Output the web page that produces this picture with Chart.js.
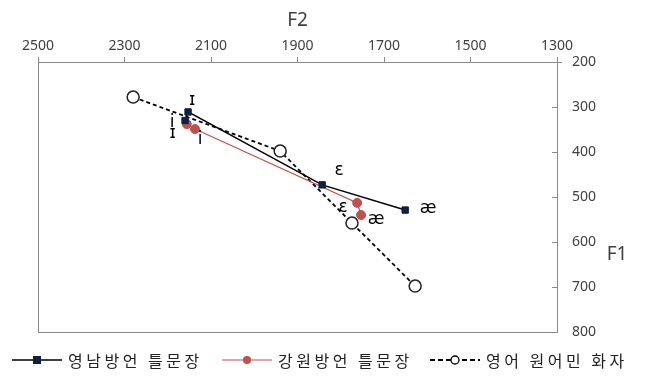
<!DOCTYPE html>
<html>
<head>
<meta charset="utf-8">
<script src="https://cdn.jsdelivr.net/npm/chart.js@4"></script>
<style>
  html, body { margin: 0; padding: 0; background: #fff; }
  #wrap { width: 645px; height: 376px; }
</style>
</head>
<body>
<div id="wrap"><canvas id="vowelChart" width="645" height="376"></canvas></div>
<script>
// 모음 포먼트 (F2, F1)
const seriesNames = ['영남방언 틀문장', '강원방언 틀문장', '영어 원어민 화자'];

const yeongnamF2 = [2160, 2153, 1843, 1651];
const yeongnamF1 = [330, 311, 473, 529];
const yeongnamLabels = ['i', 'ɪ', 'ɛ', 'æ'];

const gangwonF2 = [2156, 2137, 1762, 1753];
const gangwonF1 = [338, 349, 513, 540];
const gangwonLabels = ['ɪ', 'i', 'ɛ', 'æ'];

const englishF2 = [2280, 1940, 1774, 1628];
const englishF1 = [278, 398, 558, 698];

const f2Ticks = [2500, 2300, 2100, 1900, 1700, 1500, 1300];
const f1Ticks = [200, 300, 400, 500, 600, 700, 800];

// label offsets (px) per point
const yeongnamOffsets = [[-13, 2], [4, -11], [17, -14], [23, -1]];
const gangwonOffsets = [[-14, 9], [5, 11], [-14, 5], [15, 5]];

const RED = '#C0504D';
const NAVY = '#10203F';

function toPoints(xs, ys) {
    return xs.map((x, i) => ({ x: x, y: ys[i] }));
}

// 범례 아이콘 (선 + 마커)
function drawLegendIcon(g, kind, x, y) {
    g.save();
    g.beginPath();
    if (kind === 0) { g.strokeStyle = '#000'; g.lineWidth = 1.5; }
    if (kind === 1) { g.strokeStyle = RED; g.lineWidth = 1.2; }
    if (kind === 2) { g.strokeStyle = '#000'; g.lineWidth = 2; g.setLineDash([5, 3]); }
    g.moveTo(x, y); g.lineTo(x + 50, y); g.stroke();
    g.setLineDash([]);
    if (kind === 0) { g.fillStyle = NAVY; g.fillRect(x + 21, y - 4, 8, 8); }
    if (kind === 1) { g.fillStyle = RED; g.beginPath(); g.arc(x + 25, y, 4, 0, Math.PI * 2); g.fill(); }
    if (kind === 2) { g.fillStyle = '#fff'; g.strokeStyle = '#000'; g.lineWidth = 1.3; g.beginPath(); g.arc(x + 25, y, 4, 0, Math.PI * 2); g.fill(); g.stroke(); }
    g.restore();
}

const legendX = [12, 222, 430];

const framePlugin = {
    id: 'frame',
    beforeDatasetsDraw(chart) {
        const { ctx, chartArea: a, scales } = chart;
        ctx.save();
        ctx.strokeStyle = '#8a8a8a';
        ctx.lineWidth = 1;
        ctx.strokeRect(a.left + 0.5, a.top + 0.5, a.right - a.left, a.bottom - a.top);
        // 오른쪽 축 눈금 (안쪽)
        ctx.beginPath();
        scales.y.ticks.forEach(t => {
            const py = Math.round(scales.y.getPixelForValue(t.value)) + 0.5;
            ctx.moveTo(a.right - 5, py);
            ctx.lineTo(a.right + (t.value === 200 ? 5 : 0), py);
        });
        ctx.stroke();
        // F1 title
        ctx.fillStyle = '#404040';
        ctx.font = '19px "Noto Sans"';
        ctx.textAlign = 'center';
        ctx.textBaseline = 'middle';
        ctx.fillText('F1', a.right + 60, a.top + (a.bottom - a.top) * 0.715);
        ctx.restore();
    },
    afterDatasetsDraw(chart) {
        const { ctx } = chart;
        ctx.save();
        ctx.fillStyle = '#000';
        ctx.font = '17px "DejaVu Sans"';
        ctx.textAlign = 'center';
        ctx.textBaseline = 'middle';
        chart.data.datasets.forEach((ds, di) => {
            if (!ds.pointLabels) return;
            const meta = chart.getDatasetMeta(di);
            meta.data.forEach((pt, i) => {
                const off = ds.labelOffsets[i];
                ctx.fillText(ds.pointLabels[i], pt.x + off[0], pt.y + off[1]);
            });
        });
        ctx.restore();
    },
    afterDraw(chart) {
        // 범례
        const { ctx } = chart;
        const ly = chart.chartArea.bottom + 28;
        ctx.save();
        ctx.font = '16px "Noto Sans CJK KR"';
        ctx.letterSpacing = '3.5px';
        ctx.fillStyle = '#222';
        ctx.textAlign = 'left';
        ctx.textBaseline = 'middle';
        seriesNames.forEach((name, i) => {
            drawLegendIcon(ctx, i, legendX[i], ly);
            ctx.fillText(name, legendX[i] + 56, ly + 1);
        });
        ctx.restore();
    }
};

const ctx = document.getElementById('vowelChart').getContext('2d');
const vowelChart = new Chart(ctx, {
    type: 'scatter',
    data: {
        datasets: [{
            label: seriesNames[0],
            data: toPoints(yeongnamF2, yeongnamF1),
            pointLabels: yeongnamLabels,
            labelOffsets: yeongnamOffsets,
            showLine: true,
            borderColor: '#000',
            borderWidth: 1.5,
            pointStyle: 'rect',
            pointRadius: 4.5,
            pointBackgroundColor: NAVY,
            pointBorderColor: NAVY,
            pointBorderWidth: 1
        }, {
            label: seriesNames[1],
            data: toPoints(gangwonF2, gangwonF1),
            pointLabels: gangwonLabels,
            labelOffsets: gangwonOffsets,
            showLine: true,
            borderColor: RED,
            borderWidth: 1.2,
            pointStyle: 'circle',
            pointRadius: 4.5,
            pointBackgroundColor: RED,
            pointBorderColor: RED,
            pointBorderWidth: 1
        }, {
            label: seriesNames[2],
            data: toPoints(englishF2, englishF1),
            showLine: true,
            borderColor: '#000',
            borderWidth: 1.8,
            borderDash: [4, 3],
            pointStyle: 'circle',
            pointRadius: 6,
            pointBackgroundColor: '#fff',
            pointBorderColor: '#222',
            pointBorderWidth: 1.5
        }]
    },
    options: {
        responsive: false,
        animation: false,
        layout: { padding: { left: 38, right: 0, top: 0, bottom: 44 } },
        plugins: {
            tooltip: { enabled: false },
            legend: { display: false }
        },
        scales: {
            x: {
                type: 'linear',
                position: 'top',
                reverse: true,
                min: 1300,
                max: 2500,
                afterBuildTicks(scale) {
                    scale.ticks = f2Ticks.map(v => ({ value: v }));
                },
                afterFit(scale) { scale.height = 62; },
                ticks: {
                    color: '#404040',
                    font: { family: '"Noto Sans"', size: 14 },
                    padding: 3,
                    maxRotation: 0,
                    callback: v => String(v)
                },
                grid: { drawOnChartArea: false, tickLength: 5, color: '#8a8a8a' },
                border: { color: '#8a8a8a' },
                title: {
                    display: true,
                    text: 'F2',
                    color: '#404040',
                    font: { family: '"Noto Sans"', size: 19 },
                    padding: { top: 9, bottom: 0 }
                }
            },
            y: {
                type: 'linear',
                position: 'right',
                reverse: true,
                min: 200,
                max: 800,
                afterBuildTicks(scale) {
                    scale.ticks = f1Ticks.map(v => ({ value: v }));
                },
                afterFit(scale) { scale.width = 88; },
                ticks: {
                    color: '#404040',
                    font: { family: '"Noto Sans"', size: 14 },
                    padding: 15,
                    callback: v => String(v)
                },
                grid: { drawOnChartArea: false, drawTicks: false },
                border: { color: '#8a8a8a' }
            }
        }
    },
    plugins: [framePlugin]
});
</script>
</body>
</html>
